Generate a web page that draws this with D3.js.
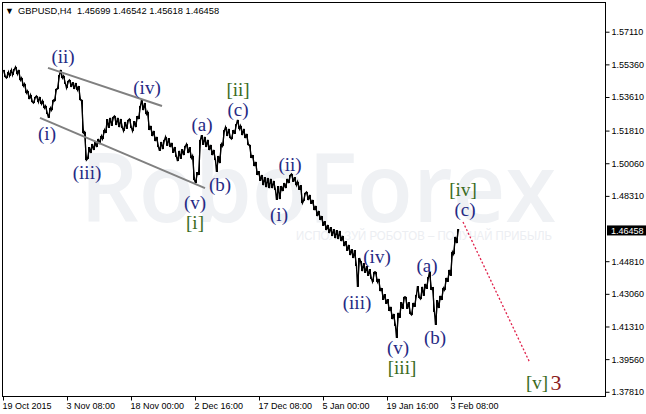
<!DOCTYPE html>
<html>
<head>
<meta charset="utf-8">
<script src="https://cdn.jsdelivr.net/npm/d3@7"></script>
<style>
    body { margin: 0; background: #fff; }
    svg text { font-family: "Liberation Sans", Arial, sans-serif; }
</style>
</head>
<body>
<div id="chart"></div>
<script>
// GBPUSD H4 - every entry below groups 3 H4 bars (high / low)
var highs = [
    1.5506, 1.5495, 1.5506, 1.5511, 1.5522, 1.5506, 1.5463, 1.5431, 1.5393, 1.5372,
    1.5361, 1.5366, 1.5361, 1.5340, 1.5313, 1.5302, 1.5345, 1.5404, 1.5479, 1.5506,
    1.5474, 1.5447, 1.5452, 1.5441, 1.5436, 1.5420, 1.5345, 1.5174, 1.5093, 1.5109,
    1.5120, 1.5136, 1.5152, 1.5184, 1.5243, 1.5249, 1.5254, 1.5259, 1.5249, 1.5243,
    1.5227, 1.5238, 1.5243, 1.5232, 1.5259, 1.5313, 1.5345, 1.5329, 1.5281, 1.5206,
    1.5179, 1.5147, 1.5120, 1.5131, 1.5147, 1.5141, 1.5115, 1.5093, 1.5072, 1.5082,
    1.5099, 1.5109, 1.5093, 1.5045, 1.4959, 1.5131, 1.5157, 1.5147, 1.5131, 1.5104,
    1.5077, 1.5045, 1.5109, 1.5184, 1.5200, 1.5190, 1.5184, 1.5216, 1.5238, 1.5206,
    1.5190, 1.5163, 1.5104, 1.5050, 1.5013, 1.4964, 1.4943, 1.4932, 1.4927, 1.4922,
    1.4911, 1.4884, 1.4884, 1.4900, 1.4922, 1.4943, 1.4948, 1.4932, 1.4906, 1.4889,
    1.4847, 1.4852, 1.4836, 1.4809, 1.4777, 1.4750, 1.4723, 1.4696, 1.4675, 1.4664,
    1.4653, 1.4648, 1.4643, 1.4616, 1.4589, 1.4568, 1.4546, 1.4541, 1.4498, 1.4482,
    1.4471, 1.4455, 1.4439, 1.4423, 1.4423, 1.4386, 1.4337, 1.4305, 1.4278, 1.4236,
    1.4198, 1.4204, 1.4262, 1.4289, 1.4289, 1.4262, 1.4257, 1.4300, 1.4348, 1.4343,
    1.4359, 1.4396, 1.4423, 1.4343, 1.4273, 1.4295, 1.4337, 1.4391, 1.4434, 1.4530,
    1.4611, 1.4653
];
var lows = [
    1.5468, 1.5463, 1.5474, 1.5479, 1.5484, 1.5452, 1.5420, 1.5383, 1.5350, 1.5334,
    1.5329, 1.5334, 1.5324, 1.5302, 1.5270, 1.5249, 1.5291, 1.5340, 1.5404, 1.5463,
    1.5431, 1.5409, 1.5415, 1.5404, 1.5399, 1.5345, 1.5168, 1.5023, 1.5029, 1.5061,
    1.5077, 1.5093, 1.5109, 1.5136, 1.5168, 1.5195, 1.5206, 1.5211, 1.5200, 1.5195,
    1.5179, 1.5190, 1.5195, 1.5179, 1.5200, 1.5243, 1.5291, 1.5270, 1.5184, 1.5152,
    1.5125, 1.5093, 1.5072, 1.5082, 1.5099, 1.5093, 1.5061, 1.5040, 1.5018, 1.5029,
    1.5050, 1.5061, 1.5034, 1.4916, 1.4900, 1.4943, 1.5104, 1.5093, 1.5077, 1.5050,
    1.5023, 1.4959, 1.5007, 1.5099, 1.5152, 1.5141, 1.5136, 1.5163, 1.5190, 1.5157,
    1.5141, 1.5104, 1.5034, 1.4991, 1.4943, 1.4911, 1.4889, 1.4878, 1.4873, 1.4873,
    1.4863, 1.4809, 1.4814, 1.4857, 1.4873, 1.4900, 1.4906, 1.4889, 1.4863, 1.4793,
    1.4804, 1.4809, 1.4788, 1.4755, 1.4723, 1.4702, 1.4670, 1.4648, 1.4632, 1.4616,
    1.4605, 1.4600, 1.4589, 1.4562, 1.4536, 1.4514, 1.4498, 1.4455, 1.4343, 1.4428,
    1.4418, 1.4402, 1.4386, 1.4370, 1.4370, 1.4321, 1.4273, 1.4252, 1.4214, 1.4171,
    1.4134, 1.4069, 1.4177, 1.4225, 1.4225, 1.4198, 1.4193, 1.4236, 1.4284, 1.4278,
    1.4295, 1.4332, 1.4327, 1.4209, 1.4139, 1.4230, 1.4273, 1.4327, 1.4370, 1.4402,
    1.4519, 1.4578
];
var barsPerEntry = 3;

// header values of the last bar
var symbol = "GBPUSD,H4";
var lastOHLC = [1.45699, 1.46542, 1.45618, 1.46458];

// axis ticks
var dateTickBars = [0, 64, 128, 192, 256, 320, 384, 448];
var dateLabels = ["19 Oct 2015", "3 Nov 08:00", "18 Nov 00:00", "2 Dec 16:00",
    "17 Dec 08:00", "5 Jan 00:00", "19 Jan 16:00", "3 Feb 08:00"];
var priceTicks = [1.57110, 1.55360, 1.53610, 1.51810, 1.50060, 1.48310,
    1.44810, 1.43060, 1.41310, 1.39560, 1.37810];

// elliott wave marks: [bar, price, text, kind]
var waveLabels = [
    [44, 1.5165, "(i)", "minor"],
    [60, 1.5576, "(ii)", "minor"],
    [84, 1.4954, "(iii)", "minor"],
    [144, 1.5409, "(iv)", "minor"],
    [192, 1.4793, "(v)", "minor"],
    [192, 1.4686, "[i]", "major"],
    [199, 1.5211, "(a)", "minor"],
    [217, 1.4889, "(b)", "minor"],
    [235, 1.5399, "[ii]", "major"],
    [235, 1.5291, "(c)", "minor"],
    [276, 1.4729, "(i)", "minor"],
    [287, 1.4997, "(ii)", "minor"],
    [354, 1.4257, "(iii)", "minor"],
    [374, 1.4504, "(iv)", "minor"],
    [395, 1.4016, "(v)", "minor"],
    [399, 1.3908, "[iii]", "major"],
    [424, 1.4455, "(a)", "minor"],
    [432, 1.4069, "(b)", "minor"],
    [460, 1.4863, "[iv]", "major"],
    [462, 1.4755, "(c)", "minor"],
    [534, 1.3828, "[v]", "major"],
    [553, 1.3828, "3", "big"]
];

// channel lines and forecast: [bar1, price1, bar2, price2]
var channelLines = [
    [45, 1.5517, 159, 1.5313],
    [37, 1.5249, 202, 1.4873]
];
var forecastLine = [460, 1.4691, 527, 1.3935];

var labelColor = {"minor": "#262a84", "major": "#3a6b1c", "big": "#8b1c1c"};

var width = 646, height = 414;
var plot = {left: 2.5, top: 2.5, right: 605.5, bottom: 396.5};

var svg = d3.select("#chart").append("svg")
    .attr("width", width)
    .attr("height", height);

var x = d3.scaleLinear()
    .domain([0, 603])
    .range([3, 606]);
var y = d3.scaleLinear()
    .domain([1.37584, 1.58649])
    .range([396, 3]);

// watermark
svg.append("text")
    .attr("x", 80)
    .attr("y", 222)
    .attr("textLength", 476)
    .attr("lengthAdjust", "spacingAndGlyphs")
    .style("font-family", "'Open Sans', sans-serif")
    .style("font-weight", 600)
    .style("font-size", "96px")
    .style("fill", "#eff1f4")
    .text("RoboForex");
svg.append("text")
    .attr("x", 296)
    .attr("y", 240)
    .attr("textLength", 256)
    .attr("lengthAdjust", "spacingAndGlyphs")
    .style("font-size", "12px")
    .style("fill", "#eceef2")
    .text("ИСПОЛЬЗУЙ РОБОТОВ – ПОЛУЧАЙ ПРИБЫЛЬ");

// frame
svg.append("rect")
    .attr("x", plot.left)
    .attr("y", plot.top)
    .attr("width", plot.right - plot.left)
    .attr("height", plot.bottom - plot.top)
    .style("fill", "none")
    .style("stroke", "#000")
    .style("stroke-width", 1);

var g = svg.append("g");

// price bars: a high-low stick in the middle of each group
g.selectAll(".bar")
    .data(highs)
    .enter().append("line")
    .attr("class", "bar")
    .attr("x1", function (d, i) { return x(i * barsPerEntry + 1) + 0.5; })
    .attr("x2", function (d, i) { return x(i * barsPerEntry + 1) + 0.5; })
    .attr("y1", function (d) { return y(d); })
    .attr("y2", function (d, i) { return y(lows[i]); })
    .style("stroke", "#000")
    .style("stroke-width", 1);

// and a zigzag joining the highs and lows in the direction of travel
var pts = [];
highs.forEach(function (h, i) {
    var l = lows[i];
    var mid = (h + l) / 2;
    var next = i + 1 < highs.length ? (highs[i + 1] + lows[i + 1]) / 2 : lastOHLC[3];
    var down = next < mid;
    pts.push([x(i * barsPerEntry) + 0.5, y(down ? h : l)]);
    pts.push([x(i * barsPerEntry + barsPerEntry - 1) + 0.5, y(down ? l : h)]);
});
pts.push([x(highs.length * barsPerEntry - 1) + 0.5, y(lastOHLC[3])]);
g.append("path")
    .attr("d", d3.line()(pts))
    .style("fill", "none")
    .style("stroke", "#000")
    .style("stroke-width", 1.4);

// channel
g.selectAll(".channel")
    .data(channelLines)
    .enter().append("line")
    .attr("x1", function (d) { return x(d[0]); })
    .attr("y1", function (d) { return y(d[1]); })
    .attr("x2", function (d) { return x(d[2]); })
    .attr("y2", function (d) { return y(d[3]); })
    .style("stroke", "#808080")
    .style("stroke-width", 2);

// forecast
g.append("line")
    .attr("x1", x(forecastLine[0]))
    .attr("y1", y(forecastLine[1]))
    .attr("x2", x(forecastLine[2]))
    .attr("y2", y(forecastLine[3]))
    .style("stroke", "#e0204a")
    .style("stroke-width", 1.3)
    .style("stroke-dasharray", "2,2");

// wave labels
g.selectAll(".wave")
    .data(waveLabels)
    .enter().append("text")
    .attr("x", function (d) { return x(d[0]); })
    .attr("y", function (d) { return y(d[1]); })
    .attr("dy", "0.33em")
    .attr("text-anchor", "middle")
    .style("font-family", "'Liberation Serif', 'Times New Roman', serif")
    .style("font-size", function (d) { return d[3] == "big" ? "22px" : "19px"; })
    .style("fill", function (d) { return labelColor[d[3]]; })
    .text(function (d) { return d[2]; });

// price axis
svg.append("g")
    .attr("transform", "translate(" + plot.right + ",0)")
    .call(d3.axisRight(y).tickValues(priceTicks).tickSize(4).tickPadding(2)
        .tickFormat(d3.format(".5f")))
    .call(function (a) { a.select(".domain").remove(); })
    .attr("style", "font-family: 'Liberation Sans', sans-serif; font-size: 9px");

// current price box
svg.append("rect")
    .attr("x", 607)
    .attr("y", y(lastOHLC[3]) - 5)
    .attr("width", 39)
    .attr("height", 10)
    .style("fill", "#000");
svg.append("text")
    .attr("x", 611)
    .attr("y", y(lastOHLC[3]))
    .attr("dy", "0.34em")
    .style("font-size", "9px")
    .style("fill", "#fff")
    .text(d3.format(".5f")(lastOHLC[3]));

// time axis
svg.append("g")
    .attr("transform", "translate(0," + plot.bottom + ")")
    .call(d3.axisBottom(x).tickValues(dateTickBars).tickSize(4).tickPadding(2)
        .tickFormat(function (d, i) { return dateLabels[i]; }))
    .call(function (a) {
        a.select(".domain").remove();
        a.selectAll("text").attr("text-anchor", "start").attr("x", -1);
    })
    .attr("style", "font-family: 'Liberation Sans', sans-serif; font-size: 9px");

// header
svg.append("text")
    .attr("x", 5)
    .attr("y", 14)
    .style("font-size", "9px")
    .text("▼");
svg.append("text")
    .attr("x", 18)
    .attr("y", 14)
    .style("font-size", "9.3px")
    .attr("xml:space", "preserve")
    .text(symbol + "  " + lastOHLC.map(d3.format(".5f")).join(" "));
</script>
</body>
</html>
